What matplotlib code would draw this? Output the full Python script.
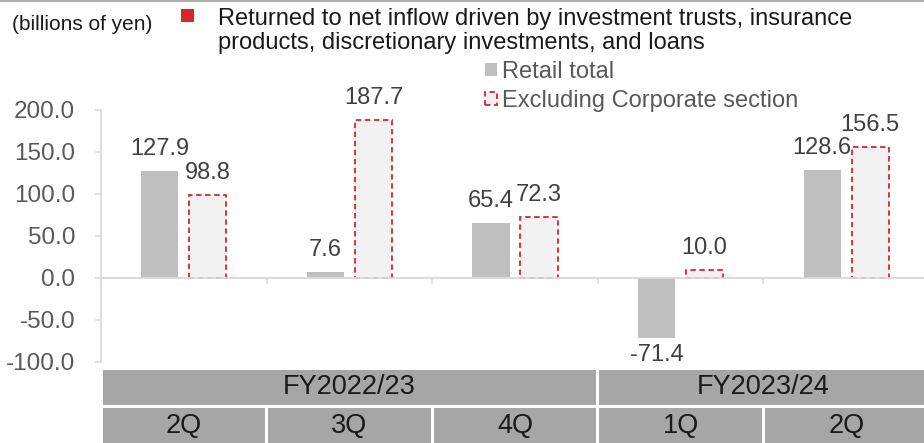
import numpy as np
import matplotlib
matplotlib.use("Agg")
import matplotlib.pyplot as plt
from matplotlib.patches import Rectangle
from matplotlib.lines import Line2D

plt.rcParams["font.family"] = ["Liberation Sans", "DejaVu Sans"]

# data
quarters = ["2Q", "3Q", "4Q", "1Q", "2Q"]
years = ["FY2022/23", "FY2023/24"]
year_spans = [3, 2]
retail = [127.9, 7.6, 65.4, -71.4, 128.6]
excl_corp = [98.8, 187.7, 72.3, 10.0, 156.5]
yticks = [-100, -50, 0, 50, 100, 150, 200]

GRAY_BAR = "#bfbfbf"
LIGHT = "#f2f2f2"
RED = "#d7262a"
AXIS = "#d9d9d9"
TICKTXT = "#595959"
LABEL = "#404040"
CELL = "#a6a6a6"

W, H = 924, 443
fig = plt.figure(figsize=(W / 100, H / 100), dpi=100)

# main axes in pixel layout
left_px, right_px = 101, 929
top_px, bot_px = 110, 362
ax = fig.add_axes([left_px / W, 1 - bot_px / H, (right_px - left_px) / W, (bot_px - top_px) / H])

x = np.arange(len(quarters))
bw = 0.225
off = 0.145
ax.bar(x - off, retail, bw, color=GRAY_BAR, label="Retail total", zorder=2)
ax.bar(x + off, excl_corp, bw, facecolor=LIGHT, edgecolor=RED, linestyle=(0, (3, 2)),
       linewidth=1.3, label="Excluding Corporate section", zorder=2)

for xi, v in zip(x - off, retail):
    if v >= 0:
        ax.annotate(f"{v:.1f}", (xi, v), xytext=(0, 11.5), textcoords="offset points",
                    ha="center", va="baseline", fontsize=17, color=LABEL)
    else:
        ax.annotate(f"{v:.1f}", (xi, v), xytext=(0, -4), textcoords="offset points",
                    ha="center", va="top", fontsize=17, color=LABEL)
for xi, v in zip(x + off, excl_corp):
    ax.annotate(f"{v:.1f}", (xi, v), xytext=(0, 11.5), textcoords="offset points",
                ha="center", va="baseline", fontsize=17, color=LABEL)

ax.set_xlim(-0.5, len(quarters) - 0.5)
ax.set_ylim(-100, 200)
ax.set_yticks(yticks)
ax.set_yticklabels([f"{t:.1f}" for t in yticks])
ax.set_xticks(np.arange(len(quarters) + 1) - 0.5)
ax.set_xticklabels([])
for s in ["top", "right"]:
    ax.spines[s].set_visible(False)
ax.spines["left"].set_color(AXIS)
ax.spines["bottom"].set_color(AXIS)
ax.spines["left"].set_linewidth(1.3)
ax.spines["bottom"].set_linewidth(1.3)
ax.spines["bottom"].set_position(("data", 0))
ax.tick_params(axis="y", direction="out", length=4.5, width=1.1, color=AXIS,
               labelsize=17.5, labelcolor=TICKTXT, pad=14)
ax.tick_params(axis="x", direction="out", length=4.5, width=1.1, color=AXIS)

leg = ax.legend(loc="upper left", bbox_to_anchor=(485 / W, 1 - 61 / H),
                bbox_transform=fig.transFigure, frameon=False, fontsize=17,
                handlelength=0.5, handleheight=0.5, handletextpad=0.2,
                labelspacing=0.3, borderpad=0, borderaxespad=0)
for t in leg.get_texts():
    t.set_color(TICKTXT)

# category table below the plot
tax = fig.add_axes([left_px / W, 0, (right_px - left_px) / W, 75 / H])
tax.set_xlim(-0.5, len(quarters) - 0.5)
tax.set_ylim(0, 75)
tax.axis("off")
gap = 0.02
row_h = 35
tax.bar(x, row_h, 1 - gap, bottom=0, color=CELL)
for xi, q in zip(x, quarters):
    tax.text(xi, row_h / 2, q, ha="center", va="center", fontsize=19.5, color="#1a1a1a")
starts = np.cumsum([0] + year_spans[:-1])
for st, sp, yr in zip(starts, year_spans, years):
    cx = st + (sp - 1) / 2
    tax.bar(cx, row_h, sp - gap, bottom=38, color=CELL)
    tax.text(cx, 38 + row_h / 2, yr, ha="center", va="center", fontsize=19.5, color="#1a1a1a")

# header
fig.text(12 / W, 1 - 24 / H, "(billions of yen)", ha="left", va="center", fontsize=15, color="#1a1a1a")
fig.add_artist(Rectangle((181 / W, 1 - 22 / H), 13 / W, 13 / H, transform=fig.transFigure,
                         facecolor=RED, edgecolor="none"))
fig.text(218 / W, 1 - 31 / H,
         "Returned to net inflow driven by investment trusts, insurance\n"
         "products, discretionary investments, and loans",
         ha="left", va="center", fontsize=17, color="#1a1a1a", linespacing=1.12)
fig.add_artist(Line2D([0, 1], [1 - 0.5 / H, 1 - 0.5 / H], transform=fig.transFigure,
                      color="#a0a0a0", linewidth=1.2))

fig.savefig("out.png", dpi=100)
